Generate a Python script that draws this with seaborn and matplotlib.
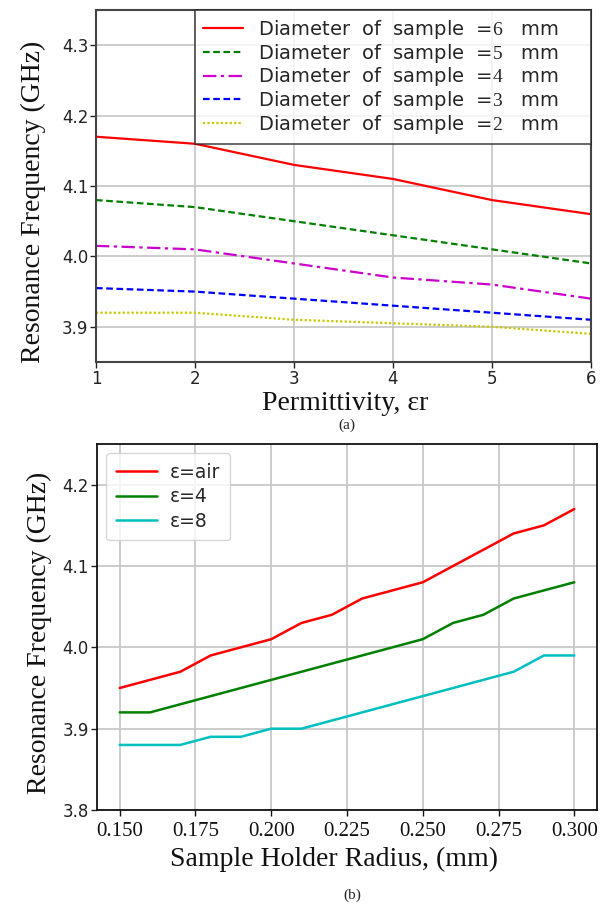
import numpy as np
import pandas as pd
import matplotlib
matplotlib.use("Agg")
import matplotlib.pyplot as plt
import seaborn as sns

# --- (a) resonance frequency vs permittivity for several sample diameters ---
permittivity = [1, 2, 3, 4, 5, 6]
diameters = ["6", "5", "4", "3", "2"]
freq_d6 = [4.17, 4.16, 4.13, 4.11, 4.08, 4.06]
freq_d5 = [4.08, 4.07, 4.05, 4.03, 4.01, 3.99]
freq_d4 = [4.015, 4.01, 3.99, 3.97, 3.96, 3.94]
freq_d3 = [3.955, 3.95, 3.94, 3.93, 3.92, 3.91]
freq_d2 = [3.92, 3.92, 3.91, 3.905, 3.90, 3.89]

# --- (b) resonance frequency vs sample holder radius ---
radius = [0.15, 0.16, 0.17, 0.18, 0.19, 0.20, 0.21, 0.22,
          0.23, 0.24, 0.25, 0.26, 0.27, 0.28, 0.29, 0.30]
freq_air = [3.95, 3.96, 3.97, 3.99, 4.00, 4.01, 4.03, 4.04,
            4.06, 4.07, 4.08, 4.10, 4.12, 4.14, 4.15, 4.17]
freq_eps4 = [3.92, 3.92, 3.93, 3.94, 3.95, 3.96, 3.97, 3.98,
             3.99, 4.00, 4.01, 4.03, 4.04, 4.06, 4.07, 4.08]
freq_eps8 = [3.88, 3.88, 3.88, 3.89, 3.89, 3.90, 3.90, 3.91,
             3.92, 3.93, 3.94, 3.95, 3.96, 3.97, 3.99, 3.99]
media = ["air", "4", "8"]

sns.set_style("whitegrid")
plt.rcParams["font.family"] = ["DejaVu Sans"]
plt.rcParams["mathtext.fontset"] = "custom"
plt.rcParams["mathtext.rm"] = "Liberation Serif"
serif = ["Liberation Serif", "DejaVu Serif"]

fig = plt.figure(figsize=(6.02, 9.06), dpi=100)
W, H = 602, 906


def axes_px(left, top, right, bottom):
    return fig.add_axes([left / W, 1 - bottom / H, (right - left) / W, (bottom - top) / H])


grid_kw = dict(color="#c8c8c8", linewidth=1.3)

# ---------------- panel (a) ----------------
ax1 = axes_px(96, 10, 591, 362)
df_a = pd.DataFrame({"eps": permittivity, "6": freq_d6, "5": freq_d5,
                     "4": freq_d4, "3": freq_d3, "2": freq_d2})
styles_a = {
    "6": ("#ff0000", "-"),
    "5": ("#008000", (0, (3, 1.6))),
    "4": ("#cc00cc", (0, (6, 2, 1.5, 2))),
    "3": ("#0000ff", (0, (3, 1.6))),
    "2": ("#c8c800", (0, (1, 1))),
}
for d in diameters:
    col, ls = styles_a[d]
    sns.lineplot(data=df_a, x="eps", y=d, ax=ax1, color=col, linestyle=ls,
                 linewidth=1.6, label=f"Diameter  of  sample  =$\\mathrm{{{d}}}$   mm")

ax1.set_xlim(1, 6)
ax1.set_ylim(3.85, 4.35)
ax1.set_xticks(permittivity)
ax1.set_yticks([3.9, 4.0, 4.1, 4.2, 4.3])
ax1.set_yticklabels(["3.9", "4.0", "4.1", "4.2", "4.3"])
ax1.grid(True, **grid_kw)
for s in ax1.spines.values():
    s.set_color("#444444")
    s.set_linewidth(1.5)
ax1.tick_params(axis="both", labelsize=12, colors="#222222", length=4, width=1,
                direction="out", left=True, bottom=True, pad=1.5)
ax1.set_xlabel("Permittivity, εr", family=serif, fontsize=20, color="#111111", va="top")
ax1.xaxis.set_label_coords(0.503, -0.082)
ax1.set_ylabel("Resonance Frequency (GHz)", family=serif, fontsize=20, color="#111111")
ax1.yaxis.set_label_coords(-0.101, 0.455)
leg1 = ax1.legend(loc="upper left", bbox_to_anchor=(0.2, 0.0, 0.8, 1.0), mode="expand",
                  fontsize=14, frameon=True, fancybox=False, edgecolor="#222222",
                  handlelength=2.05, handletextpad=0.75, borderpad=0.42,
                  labelspacing=0.03, borderaxespad=0.0)
leg1.get_frame().set_linewidth(1.2)
fig.text(347 / W, 1 - 425 / H, "(a)", family=serif, fontsize=11, ha="center", va="center")

# ---------------- panel (b) ----------------
ax2 = axes_px(97, 444, 597, 810)
df_b = pd.DataFrame({"r": radius, "air": freq_air, "4": freq_eps4, "8": freq_eps8})
colors_b = {"air": "#ff0000", "4": "#008000", "8": "#00bfbf"}
for m in media:
    sns.lineplot(data=df_b, x="r", y=m, ax=ax2, color=colors_b[m], linewidth=1.8,
                 label=f"ε={m}")

ax2.set_ylim(3.8, 4.25)
ax2.set_xticks([0.150, 0.175, 0.200, 0.225, 0.250, 0.275, 0.300])
ax2.set_xticklabels(["0.150", "0.175", "0.200", "0.225", "0.250", "0.275", "0.300"],
                    family=serif, fontsize=15)
ax2.set_yticks([3.8, 3.9, 4.0, 4.1, 4.2])
ax2.set_yticklabels(["3.8", "3.9", "4.0", "4.1", "4.2"])
ax2.grid(True, **grid_kw)
for s in ax2.spines.values():
    s.set_color("#111111")
    s.set_linewidth(1.3)
ax2.tick_params(axis="y", labelsize=12, colors="#222222", length=4, width=1,
                direction="out", left=True, pad=2)
ax2.tick_params(axis="x", colors="#111111", length=4, width=1, direction="out",
                bottom=True, pad=5)
ax2.set_xlabel("Sample Holder Radius, (mm)", family=serif, fontsize=20, color="#111111", va="top")
ax2.xaxis.set_label_coords(0.474, -0.102)
ax2.set_ylabel("Resonance Frequency (GHz)", family=serif, fontsize=20, color="#111111")
ax2.yaxis.set_label_coords(-0.089, 0.485)
leg2 = ax2.legend(loc="upper left", fontsize=13.5, frameon=True, fancybox=True,
                  edgecolor="#cccccc", handlelength=2.2, handletextpad=0.7,
                  borderpad=0.5, labelspacing=0.3, borderaxespad=0.5)
fig.text(352 / W, 1 - 895 / H, "(b)", family=serif, fontsize=11, ha="center", va="center")

fig.savefig("out.png", dpi=100, facecolor="white")
